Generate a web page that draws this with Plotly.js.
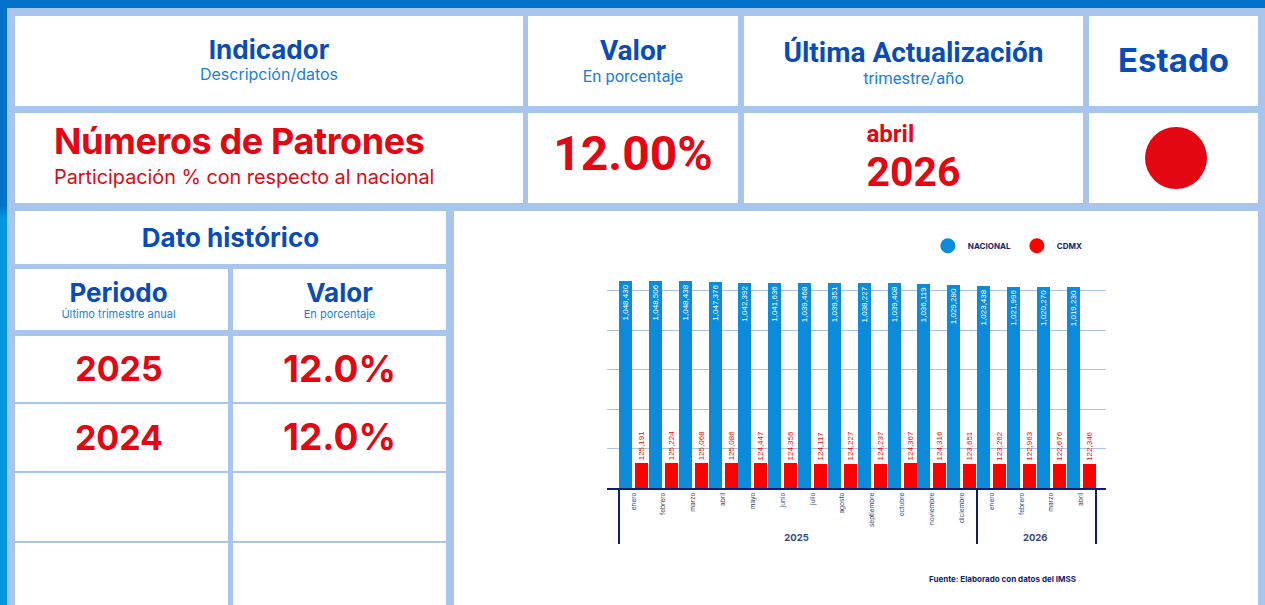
<!DOCTYPE html>
<html><head><meta charset="utf-8">
<script src="https://cdn.plot.ly/plotly-3.0.1.min.js"></script>
<style>
body{margin:0;width:1265px;height:605px;overflow:hidden;background:#a7c5ed;font-family:Inter,"Noto Sans",sans-serif;position:relative}
.c{position:absolute;background:#fff;display:flex;flex-direction:column;align-items:center;justify-content:center;text-align:center;line-height:1.15}
.h{color:#0a4cb5;font-weight:700}
.s{color:#1a7fd6}
.r{color:#e30613;font-weight:700}
.rb{font-family:Roboto,sans-serif}
</style></head><body>
<div style="position:absolute;left:0;top:0;width:1265px;height:8px;background:#0072cb"></div>
<div style="position:absolute;left:0;top:0;width:7px;height:605px;background:linear-gradient(#0072cb,#0072cb 34%,#0096e0 36%,#0096e0)"></div>

<div class="c" style="left:15px;top:16px;width:508px;height:90px">
  <div class="h" style="font-size:26px;margin-top:-3px">Indicador</div>
  <div class="s" style="font-size:16px;margin-top:0px">Descripción/datos</div>
</div>
<div class="c rb" style="left:528px;top:16px;width:210px;height:90px">
  <div class="h" style="font-size:28px">Valor</div>
  <div class="s" style="font-size:16.5px">En porcentaje</div>
</div>
<div class="c rb" style="left:744px;top:16px;width:339px;height:90px">
  <div class="h" style="font-size:28px;margin-top:4px">Última Actualización</div>
  <div class="s" style="font-size:16.5px">trimestre/año</div>
</div>
<div class="c" style="left:1089px;top:16px;width:169px;height:90px">
  <div class="h" style="font-size:33px">Estado</div>
</div>

<div class="c" style="left:15px;top:113px;width:508px;height:90px;align-items:flex-start">
  <div style="padding-left:39px;text-align:left;margin-top:-6px">
    <div class="r" style="font-size:36px;letter-spacing:-0.4px">Números de Patrones</div>
    <div style="color:#e30613;font-size:19.8px;margin-top:3px">Participación % con respecto al nacional</div>
  </div>
</div>
<div class="c rb" style="left:528px;top:113px;width:210px;height:90px">
  <div class="r" style="font-size:48px;margin-top:-8px">12.00%</div>
</div>
<div class="c rb" style="left:744px;top:113px;width:339px;height:90px">
  <div style="text-align:left">
    <div class="r" style="font-size:24px;line-height:28.3px">abril</div>
    <div class="r" style="font-size:41px;line-height:48.3px">2026</div>
  </div>
</div>
<div class="c" style="left:1089px;top:113px;width:169px;height:90px">
  <div style="width:62px;height:62px;border-radius:50%;background:#e30613;margin-left:5px"></div>
</div>

<div class="c" style="left:15px;top:211px;width:431px;height:53px">
  <div class="h" style="font-size:26px">Dato histórico</div>
</div>
<div class="c" style="left:15px;top:269px;width:213px;height:61px">
  <div class="h" style="font-size:26px;margin-left:-6px">Periodo</div>
  <div class="s" style="font-size:11px;margin-left:-6px">Último trimestre anual</div>
</div>
<div class="c" style="left:233px;top:269px;width:213px;height:61px">
  <div class="h" style="font-size:26px">Valor</div>
  <div class="s" style="font-size:11px">En porcentaje</div>
</div>
<div class="c" style="left:15px;top:336px;width:213px;height:66px"><div class="r" style="font-size:34px;margin-left:-5px">2025</div></div>
<div class="c" style="left:233px;top:336px;width:213px;height:66px"><div class="r" style="font-size:37px">12.0%</div></div>
<div class="c" style="left:15px;top:404px;width:213px;height:67px"><div class="r" style="font-size:34px;margin-left:-5px">2024</div></div>
<div class="c" style="left:233px;top:404px;width:213px;height:67px"><div class="r" style="font-size:37px">12.0%</div></div>
<div class="c" style="left:15px;top:473px;width:213px;height:68px"></div>
<div class="c" style="left:233px;top:473px;width:213px;height:68px"></div>
<div class="c" style="left:15px;top:543px;width:213px;height:70px"></div>
<div class="c" style="left:233px;top:543px;width:213px;height:70px"></div>

<div id="chart" style="position:absolute;left:454px;top:211px;width:804px;height:394px;background:#fff"></div>

<script>
const years = ['2025','2025','2025','2025','2025','2025','2025','2025','2025','2025','2025','2025','2026','2026','2026','2026'];
const months = ['enero','febrero','marzo','abril','mayo','junio','julio','agosto','septiembre','octubre','noviembre','diciembre','enero','febrero','marzo','abril'];
const nacional = [1048430,1048506,1048438,1047376,1042392,1041636,1039468,1039351,1038227,1039408,1036119,1029280,1023438,1021996,1020270,1019230];
const cdmx = [125191,125224,125068,125086,124447,124356,124117,124227,124237,124367,124316,123651,123262,122963,122676,122346];
const seriesNames = ['NACIONAL','CDMX'];
const sourceText = 'Fuente: Elaborado con datos del IMSS';

const blue = '#0b8bd9', red = '#ff0000', navy = '#13246b';
const fmt = v => v.toLocaleString('en-US');
const yearCats = years.map(y => '<span style="font-size:9.5px"><b>' + y + '</b></span>');
const xCats = [yearCats, months];

const traces = [
  {type:'scatter', mode:'markers', name:seriesNames[0], x:[[yearCats[0]],[months[0]]], y:[null],
   marker:{color:blue, size:15}, hoverinfo:'skip'},
  {type:'scatter', mode:'markers', name:seriesNames[1], x:[[yearCats[0]],[months[0]]], y:[null],
   marker:{color:red, size:15}, hoverinfo:'skip'},
  {type:'bar', name:seriesNames[0], x:xCats, y:nacional, showlegend:false,
   marker:{color:blue}, width:0.436, offset:-0.486,
   text:nacional.map(fmt), textposition:'inside', insidetextanchor:'end', textangle:-90, constraintext:'none',
   textfont:{family:'Liberation Sans', size:8, color:'#ffffff'}, cliponaxis:false, hoverinfo:'y'},
  {type:'bar', name:seriesNames[1], x:xCats, y:cdmx, showlegend:false,
   marker:{color:red}, width:0.436, offset:0.05,
   text:cdmx.map(fmt), textposition:'outside', textangle:-90, constraintext:'none',
   textfont:{family:'Liberation Sans', size:8, color:red}, cliponaxis:false, hoverinfo:'y'}
];

const layout = {
  width:804, height:394,
  margin:{l:153, r:152, t:70, b:117, pad:0},
  paper_bgcolor:'#ffffff', plot_bgcolor:'#ffffff',
  barmode:'group', bargap:0,
  showlegend:true,
  legend:{orientation:'h', x:0.643, xanchor:'left', y:1.17, yanchor:'middle',
    font:{family:'Inter', size:8, weight:700, color:navy},
    entrywidth:44, entrywidthmode:'pixels', bgcolor:'rgba(0,0,0,0)'},
  xaxis:{type:'multicategory', range:[-0.889, 15.835], showline:true, linecolor:'#0a1f6e', linewidth:2,
    showdividers:true, dividercolor:'#0a1f6e', dividerwidth:2, tickangle:-90, ticks:'',
    tickfont:{family:'Inter', size:6.5, color:'#3a4777'}, showgrid:false, zeroline:false},
  yaxis:{range:[0,1050000], showticklabels:false, ticks:'', gridcolor:'#a9c3ea', gridwidth:1,
    dtick:200000, tick0:0, zeroline:false, showline:false},
  annotations:[{text:'<b>' + sourceText + '</b>', xref:'paper', yref:'paper', x:0.944, y:-0.438,
    xanchor:'right', yanchor:'middle', showarrow:false,
    font:{family:'Inter', size:8, color:navy}}]
};

Plotly.newPlot('chart', traces, layout, {displayModeBar:false, staticPlot:true});
</script>
</body></html>
